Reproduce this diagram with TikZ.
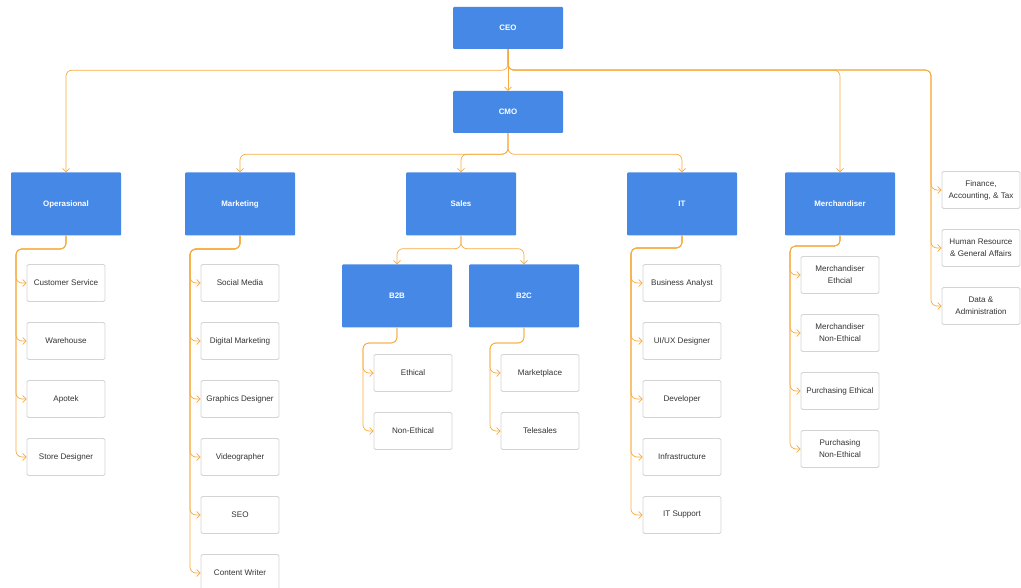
\documentclass[tikz,border=0pt]{standalone}
\usepackage{fontspec}
\setmainfont{Liberation Sans}
\usetikzlibrary{arrows.meta}
\definecolor{boxblue}{HTML}{4688E6}
\definecolor{linkorange}{HTML}{F7AB3F}
\definecolor{boxgray}{HTML}{D4D4D4}
\definecolor{textgray}{HTML}{333333}
\begin{document}
\begin{tikzpicture}[x=1pt, y=-1pt, >={Straight Barb[length=3.5pt,width=7pt]},
	head/.style={fill=boxblue, text=white, font=\fontsize{7.9}{9}\selectfont\bfseries,
		minimum width=110pt, minimum height=63pt, inner sep=0pt, rounded corners=1pt},
	unit/.style={draw=boxgray, fill=white, text=textgray, font=\fontsize{8.1}{12}\selectfont,
		minimum width=78pt, minimum height=37pt, inner sep=1pt, align=center,
		rounded corners=1.5pt, line width=0.8pt},
	link/.style={draw=linkorange, line width=0.7pt, rounded corners=6pt, ->}]
	\useasboundingbox (0,0) rectangle (1021,588);
	% top levels
	\node[head, minimum height=42pt] (ceo) at (508,28) {CEO};
	\node[head, minimum height=42pt] (cmo) at (508,112) {CMO};
	\node[head] (op) at (66,204) {Operasional};
	\node[head] (mkt) at (240,204) {Marketing};
	\node[head] (sal) at (461,204) {Sales};
	\node[head] (it) at (682,204) {IT};
	\node[head] (mer) at (840,204) {Merchandiser};
	\node[head] (b2b) at (397,296) {B2B};
	\node[head] (b2c) at (524,296) {B2C};
	\draw[link] (ceo) -- (cmo);
	\draw[link] (ceo.south) -- ++(0,21) -| (op.north);
	\draw[link] (ceo.south) -- ++(0,21) -| (mer.north);
	\draw[link] (cmo.south) -- ++(0,21) -| (mkt.north);
	\draw[link] (cmo.south) -- ++(0,21) -| (sal.north);
	\draw[link] (cmo.south) -- ++(0,21) -| (it.north);
	\draw[link] (sal.south) -- ++(0,13) -| (b2b.north);
	\draw[link] (sal.south) -- ++(0,13) -| (b2c.north);
	% units
	\foreach \lbl [count=\i] in {Customer Service, Warehouse, Apotek, Store Designer}{
		\node[unit] (op\i) at (66,225+58*\i) {\lbl};
		\draw[link] (op.south) |- (16,249) |- (op\i.west);
	}
	\foreach \lbl [count=\i] in {Social Media, Digital Marketing, Graphics Designer,
		Videographer, SEO, Content Writer}{
		\node[unit] (mkt\i) at (240,225+58*\i) {\lbl};
		\draw[link] (mkt.south) |- (190,249) |- (mkt\i.west);
	}
	\foreach \lbl [count=\i] in {Ethical, Non-Ethical}{
		\node[unit] (bb\i) at (413,315+58*\i) {\lbl};
		\draw[link] (b2b.south) |- (363,343) |- (bb\i.west);
	}
	\foreach \lbl [count=\i] in {Marketplace, Telesales}{
		\node[unit] (bc\i) at (540,315+58*\i) {\lbl};
		\draw[link] (b2c.south) |- (490,343) |- (bc\i.west);
	}
	\foreach \lbl [count=\i] in {Business Analyst, UI/UX Designer, Developer,
		Infrastructure, IT Support}{
		\node[unit] (it\i) at (682,225+58*\i) {\lbl};
		\draw[link] (it.south) |- (631,248) |- (it\i.west);
	}
	\foreach \lbl [count=\i] in {Merchandiser\\Ethcial, Merchandiser\\Non-Ethical,
		Purchasing Ethical, Purchasing\\Non-Ethical}{
		\node[unit] (mer\i) at (840,217+58*\i) {\lbl};
		\draw[link] (mer.south) |- (790,246) |- (mer\i.west);
	}
	\foreach \lbl [count=\i] in {{Finance,\\Accounting, \& Tax},
		Human Resource\\\& General Affairs, Data \&\\Administration}{
		\node[unit] (fin\i) at (981,132+58*\i) {\lbl};
		\draw[link] (ceo.south) |- (931,70) |- (fin\i.west);
	}
\end{tikzpicture}
\end{document}
